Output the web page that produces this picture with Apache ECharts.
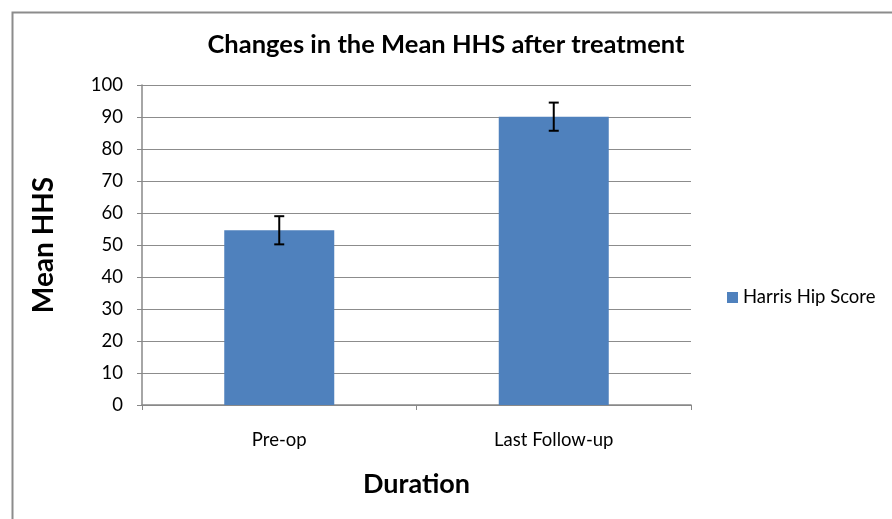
<!DOCTYPE html>
<html>
<head>
    <meta charset="utf-8">
    <title>Changes in the Mean HHS after treatment</title>
    <script src="https://cdn.jsdelivr.net/npm/echarts@6/dist/echarts.min.js"></script>
    <style>
        html, body { margin: 0; padding: 0; background: #fff; }
        #chart { width: 892px; height: 519px; }
    </style>
</head>
<body>
<div id="chart"></div>
<script type="text/javascript">
    // data
    var categories = ['Pre-op', 'Last Follow-up'];
    var meanHHS = [54.6, 90.1];
    var errHHS = [4.4, 4.4];
    var seriesName = 'Harris Hip Score';

    var font = 'Lato, "Open Sans", sans-serif';
    var myChart = echarts.init(document.getElementById('chart'));

    // error bar data: [index, low, high]
    var errData = meanHHS.map(function (m, i) {
        return [i, m - errHHS[i], m + errHHS[i]];
    });

    myChart.setOption({
        animation: false,
        backgroundColor: '#fff',
        graphic: [{
            type: 'rect',
            left: 10, top: 10,
            shape: { width: 900, height: 530 },
            style: { fill: 'none', stroke: '#8c8c8c', lineWidth: 2 },
            silent: true
        }],
        title: {
            text: 'Changes in the Mean HHS after treatment',
            left: 'center',
            top: 27,
            textStyle: { fontFamily: font, fontSize: 25.5, fontWeight: 'bold', color: '#000' }
        },
        legend: {
            data: [seriesName],
            left: 722,
            top: 283,
            itemWidth: 11,
            itemHeight: 11,
            itemGap: 6,
            icon: 'rect',
            textStyle: { fontFamily: font, fontSize: 18.5, color: '#000' }
        },
        grid: { left: 142, right: 201, top: 85, bottom: 114 },
        xAxis: {
            type: 'category',
            data: categories,
            name: 'Duration',
            nameLocation: 'middle',
            nameGap: 66,
            nameTextStyle: { fontFamily: font, fontSize: 27, fontWeight: 'bold', color: '#000' },
            axisLine: { lineStyle: { color: '#888', width: 1.5 } },
            axisTick: { show: true, length: 5, lineStyle: { color: '#888' } },
            axisLabel: { fontFamily: font, fontSize: 18.5, color: '#000', margin: 26 }
        },
        yAxis: {
            type: 'value',
            min: 0,
            max: 100,
            interval: 10,
            name: 'Mean HHS',
            nameLocation: 'middle',
            nameGap: 84,
            nameTextStyle: { fontFamily: font, fontSize: 28, fontWeight: 'bold', color: '#000' },
            axisLine: { show: true, lineStyle: { color: '#888', width: 1.5 } },
            axisTick: { show: true, length: 5, lineStyle: { color: '#888' } },
            axisLabel: { fontFamily: font, fontSize: 18.5, color: '#000', margin: 19 },
            splitLine: { lineStyle: { color: '#8c8c8c', width: 1.2 } }
        },
        series: [{
            name: seriesName,
            type: 'bar',
            data: meanHHS,
            barWidth: 110,
            itemStyle: { color: '#4f81bd' }
        }, {
            type: 'custom',
            name: 'error',
            data: errData,
            z: 10,
            renderItem: function (params, api) {
                var lo = api.coord([api.value(0), api.value(1)]);
                var hi = api.coord([api.value(0), api.value(2)]);
                var w = 5;
                var st = { stroke: '#000', lineWidth: 2 };
                return {
                    type: 'group',
                    children: [
                        { type: 'line', shape: { x1: hi[0], y1: hi[1], x2: lo[0], y2: lo[1] }, style: st },
                        { type: 'line', shape: { x1: hi[0] - w, y1: hi[1], x2: hi[0] + w, y2: hi[1] }, style: st },
                        { type: 'line', shape: { x1: lo[0] - w, y1: lo[1], x2: lo[0] + w, y2: lo[1] }, style: st }
                    ]
                };
            }
        }]
    });
</script>
</body>
</html>
